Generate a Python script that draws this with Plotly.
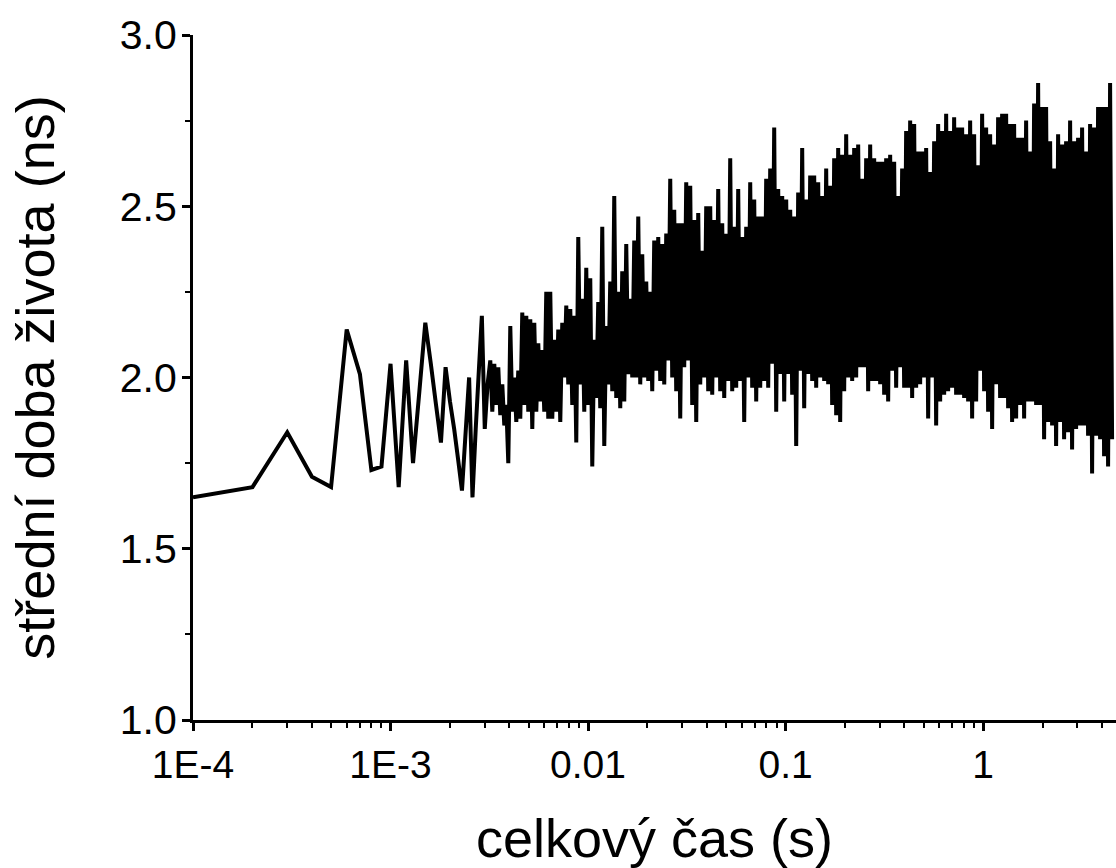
import numpy as np
import plotly.graph_objects as go

# ---- data ----
# sparse beginning: sample number n (time = n * 1e-4 s) and lifetime (ns)
sample_n = list(range(1, 32))
tau_sparse = [1.65, 1.68, 1.84, 1.71, 1.68, 2.14, 2.01, 1.73, 1.74, 2.04,
              1.68, 2.05, 1.75, 1.96, 2.16, 2.04, 1.92, 1.81, 2.03, 1.93,
              1.85, 1.76, 1.67, 1.84, 2.00, 1.65, 1.85, 2.02, 2.18, 1.85,
              1.98]

# dense part (3.2e-3 s .. 4.5 s): alternating upper / lower excursions
tau_hi = [2.05, 2.04, 2.03, 1.98, 1.92, 2.15, 2.00, 2.02, 2.19, 2.18,
          2.17, 2.16, 2.10, 2.08, 2.25, 2.25, 2.11, 2.14, 2.16, 2.21,
          2.20, 2.18, 2.41, 2.23, 2.32, 2.29, 2.11, 2.22, 2.44, 2.15,
          2.28, 2.53, 2.25, 2.31, 2.39, 2.23, 2.40, 2.47, 2.36, 2.28,
          2.25, 2.40, 2.41, 2.39, 2.42, 2.58, 2.49, 2.45, 2.45, 2.57,
          2.56, 2.46, 2.48, 2.37, 2.50, 2.50, 2.46, 2.55, 2.45, 2.42,
          2.64, 2.44, 2.55, 2.41, 2.44, 2.57, 2.52, 2.47, 2.47, 2.58,
          2.61, 2.73, 2.55, 2.53, 2.52, 2.49, 2.47, 2.54, 2.67, 2.52,
          2.59, 2.59, 2.57, 2.53, 2.61, 2.56, 2.64, 2.67, 2.65, 2.71,
          2.65, 2.67, 2.68, 2.58, 2.64, 2.68, 2.64, 2.63, 2.63, 2.64,
          2.65, 2.63, 2.53, 2.61, 2.72, 2.75, 2.74, 2.66, 2.66, 2.67,
          2.60, 2.69, 2.74, 2.72, 2.77, 2.72, 2.76, 2.73, 2.73, 2.71,
          2.75, 2.71, 2.62, 2.77, 2.73, 2.71, 2.68, 2.76, 2.77, 2.77,
          2.74, 2.74, 2.70, 2.70, 2.75, 2.66, 2.80, 2.86, 2.79, 2.79,
          2.69, 2.61, 2.71, 2.68, 2.69, 2.75, 2.69, 2.70, 2.73, 2.66,
          2.74, 2.73, 2.79, 2.79, 2.79, 2.86]
tau_lo = [1.90, 1.92, 1.89, 1.86, 1.75, 1.90, 1.87, 1.88, 1.92, 1.90,
          1.85, 1.90, 1.93, 1.90, 1.88, 1.88, 1.90, 1.87, 2.00, 1.98,
          1.92, 1.81, 1.98, 1.90, 1.92, 1.74, 1.94, 1.91, 1.80, 1.98,
          1.96, 1.94, 1.91, 1.93, 2.01, 2.00, 2.00, 1.98, 2.00, 1.99,
          1.96, 2.02, 1.99, 1.98, 2.05, 2.00, 1.96, 1.88, 2.03, 2.05,
          1.92, 1.87, 1.98, 2.00, 1.96, 1.95, 2.00, 1.96, 1.94, 1.99,
          1.96, 1.97, 1.99, 1.87, 2.00, 1.97, 1.93, 1.97, 1.99, 1.97,
          2.04, 1.90, 2.01, 1.93, 2.01, 1.95, 1.80, 2.02, 1.91, 2.01,
          1.99, 1.97, 2.00, 1.99, 1.98, 1.92, 1.89, 1.87, 1.96, 2.00,
          1.99, 2.00, 2.03, 2.03, 1.96, 1.99, 1.99, 1.98, 1.95, 1.93,
          2.02, 1.97, 2.03, 1.97, 1.97, 1.94, 1.97, 1.98, 2.00, 1.88,
          2.00, 1.86, 1.93, 1.95, 1.96, 1.97, 1.95, 1.95, 1.94, 1.93,
          1.88, 1.93, 2.02, 1.96, 1.90, 1.85, 1.98, 1.94, 1.94, 1.91,
          1.87, 1.88, 1.92, 1.88, 1.93, 1.93, 1.92, 1.92, 1.82, 1.87,
          1.86, 1.80, 1.87, 1.82, 1.84, 1.79, 1.85, 1.86, 1.86, 1.83,
          1.72, 1.83, 1.82, 1.77, 1.74, 1.82]
dense_t_start = 3.2e-3
dense_t_end = 4.5

x_tickvals = [1e-4, 1e-3, 1e-2, 1e-1, 1]
x_ticktext = ["1E-4", "1E-3", "0.01", "0.1", "1"]
y_tickvals = [1.0, 1.5, 2.0, 2.5, 3.0]
y_ticktext = ["1.0", "1.5", "2.0", "2.5", "3.0"]

# ---- build series ----
t_sparse = [n * 1e-4 for n in sample_n]
tau_dense = []
for h, l in zip(tau_hi, tau_lo):
    tau_dense += [h, l]
t_dense = list(np.geomspace(dense_t_start, dense_t_end, len(tau_dense)))

t_all = t_sparse + t_dense
tau_all = tau_sparse + tau_dense

FONT = "Liberation Sans, Arial, sans-serif"

fig = go.Figure()
fig.add_trace(go.Scatter(
    x=t_all, y=tau_all, mode="lines",
    line=dict(color="black", width=4, simplify=False),
    showlegend=False, hoverinfo="skip",
))

fig.update_layout(
    width=1116, height=868,
    margin=dict(l=193, r=0, t=35, b=148),
    paper_bgcolor="white", plot_bgcolor="white",
    font=dict(family=FONT, color="black"),
    showlegend=False,
)
fig.update_xaxes(
    type="log", range=[-4, 4.673 - 4],
    tickvals=x_tickvals, ticktext=x_ticktext,
    tickfont=dict(size=39, family=FONT, color="black"),
    showline=True, linewidth=3, linecolor="black",
    ticks="outside", ticklen=8, tickwidth=3, tickcolor="black",
    minor=dict(ticks="outside", ticklen=5, tickwidth=2, tickcolor="black",
               dtick="D1", showgrid=False),
    showgrid=False, zeroline=False, automargin=False,
    title=dict(text="celkový čas (s)", font=dict(size=54, family=FONT, color="black"),
               standoff=36),
)
fig.update_yaxes(
    range=[1.0, 3.0],
    tickvals=y_tickvals, ticktext=y_ticktext,
    tickfont=dict(size=41, family=FONT, color="black"),
    showline=True, linewidth=3, linecolor="black",
    ticks="outside", ticklen=8, tickwidth=3, tickcolor="black",
    ticklabelstandoff=-3,
    minor=dict(ticks="outside", ticklen=5, tickwidth=2, tickcolor="black",
               dtick=0.25, showgrid=False),
    showgrid=False, zeroline=False, automargin=False,
    title=dict(text="střední doba života (ns)", font=dict(size=54, family=FONT, color="black"),
               standoff=48),
)

fig.write_html(
    "out.html",
    config={"displayModeBar": False},
    post_script="document.body.style.margin='0';"
                "document.documentElement.style.overflow='hidden';"
                "document.body.style.overflow='hidden';",
)
